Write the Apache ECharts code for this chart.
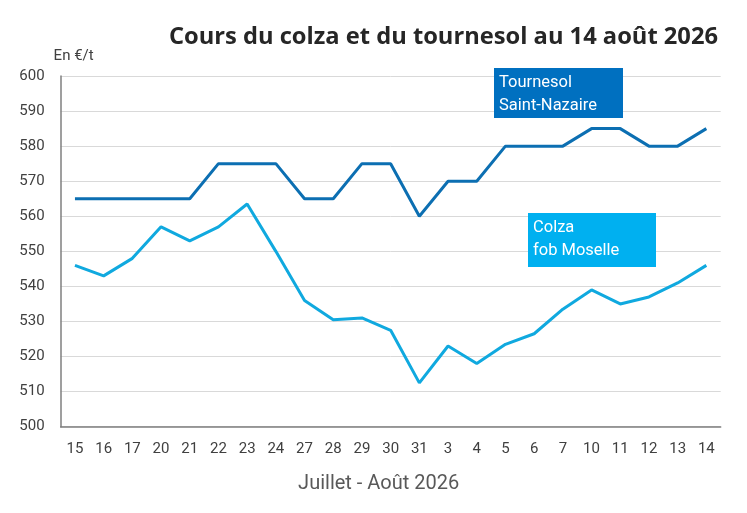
<!DOCTYPE html>
<html><head><meta charset="utf-8">
<script src="https://cdn.jsdelivr.net/npm/echarts@6/dist/echarts.min.js"></script>
<style>html,body{margin:0;padding:0;background:#fff}#c{width:747px;height:513px}</style>
</head><body><div id="c"></div>
<script>
const categories = ['15','16','17','20','21','22','23','24','27','28','29','30','31','3','4','5','6','7','10','11','12','13','14'];
const tournesol = [565,565,565,565,565,575,575,575,565,565,575,575,560,570,570,580,580,580,585,585,580,580,585];
const colza = [546,543,548,557,553,557,563.5,550,536,530.5,531,527.5,512.5,523,518,523.5,526.5,533.5,539,535,537,541,546];
const yTicks = [500,510,520,530,540,550,560,570,580,590,600];

const chart = echarts.init(document.getElementById('c'));
chart.setOption({
  animation: false,
  backgroundColor: '#fff',
  title: {
    text: 'Cours du colza et du tournesol au 14 août 2026',
    right: 24, top: 20,
    textStyle: {fontFamily: 'Open Sans', fontWeight: 'bold', fontSize: 23.7, color: '#262626'}
  },
  grid: {left: 60.6, right: 26.3, top: 76, bottom: 86.3},
  xAxis: {
    type: 'category', data: categories, boundaryGap: true,
    name: 'Juillet - Août 2026', nameLocation: 'middle', nameGap: 47,
    nameTextStyle: {fontFamily: 'Roboto', fontSize: 20, color: '#595959', padding: [0, 24, 0, 0]},
    axisLine: {lineStyle: {color: '#7f7f7f', width: 1.5}},
    axisTick: {show: false},
    axisLabel: {fontFamily: 'Roboto', fontSize: 15, color: '#404040', margin: 15, interval: 0}
  },
  yAxis: {
    type: 'value', min: yTicks[0], max: yTicks[yTicks.length-1], interval: 10,
    name: 'En €/t', nameLocation: 'end', nameGap: 12,
    nameTextStyle: {fontFamily: 'Roboto', fontSize: 15, color: '#404040', align: 'left', padding: [0,0,0,-7]},
    axisLine: {show: true, lineStyle: {color: '#7f7f7f', width: 1.5}},
    axisTick: {show: false},
    splitLine: {lineStyle: {color: '#d9d9d9', width: 1}},
    axisLabel: {fontFamily: 'Roboto', fontSize: 15, color: '#404040', margin: 16}
  },
  series: [
    {name: 'Tournesol Saint-Nazaire', type: 'line', data: tournesol, symbol: 'none',
     lineStyle: {color: '#0c6fb2', width: 3}},
    {name: 'Colza fob Moselle', type: 'line', data: colza, symbol: 'none',
     lineStyle: {color: '#10a9df', width: 3}}
  ],
  graphic: [
    {type: 'rect', z: 100, shape: {x: 494, y: 68, width: 129, height: 50}, style: {fill: '#0070c0'}},
    {type: 'text', z: 101, left: 499, top: 71, style: {text: 'Tournesol\nSaint-Nazaire', fill: '#fff', font: '16.5px Roboto', lineHeight: 23}},
    {type: 'rect', z: 100, shape: {x: 528, y: 213, width: 128, height: 54}, style: {fill: '#00b0f0'}},
    {type: 'text', z: 101, left: 533, top: 216, style: {text: 'Colza\nfob Moselle', fill: '#fff', font: '16.5px Roboto', lineHeight: 23}}
  ]
});
</script></body></html>
